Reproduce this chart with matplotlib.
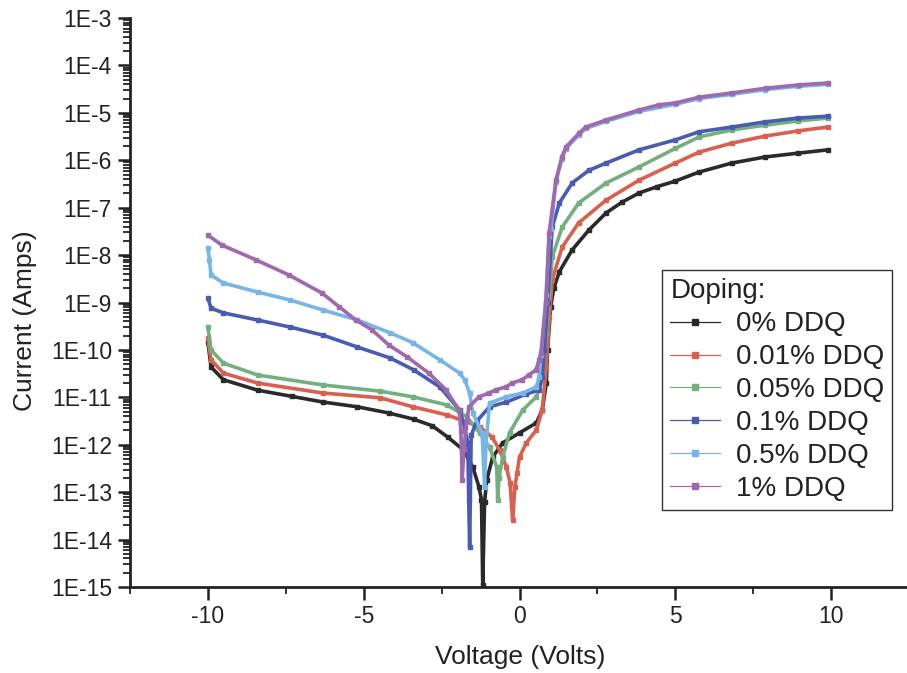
import numpy as np
import matplotlib
matplotlib.use('Agg')
import matplotlib.pyplot as plt
from matplotlib.lines import Line2D
from matplotlib.ticker import MultipleLocator, LogLocator, FixedLocator, NullFormatter

plt.rcParams['font.family'] = ['Liberation Sans', 'DejaVu Sans']
plt.rcParams['axes.unicode_minus'] = False

# Values: voltage (V) and log10 of current (A)
v_0 = [-10.0, -9.9, -9.5, -8.4, -7.3, -6.3, -5.2, -4.2, -3.4, -2.8, -2.3, -1.8, -1.5, -1.3,
       -1.22, -1.18, -1.12, -1.05, -0.86, -0.54, 0.0, 0.54, 0.73, 0.86, 0.9, 1.0, 1.1, 1.28,
       1.69, 2.23, 2.78, 3.3, 3.84, 4.4, 5.0, 5.76, 6.81, 7.89, 8.95, 9.9]
logi_0 = [-9.83, -10.36, -10.63, -10.85, -10.98, -11.10, -11.20, -11.33, -11.46, -11.6, -11.84,
          -12.11, -12.47, -12.89, -13.16, -14.95, -13.2, -12.74, -12.26, -11.96, -11.75, -11.54,
          -11.27, -10.70, -10.0, -9.1, -8.7, -8.35, -7.89, -7.47, -7.11, -6.88, -6.69, -6.56,
          -6.44, -6.25, -6.06, -5.93, -5.85, -5.78]

v_001 = [-10.0, -9.9, -9.5, -8.4, -6.3, -4.47, -3.42, -2.33, -1.28, -0.88, -0.64, -0.42, -0.3,
         -0.25, -0.22, -0.15, -0.08, 0.0, 0.22, 0.54, 0.73, 0.86, 0.96, 1.05, 1.37, 1.9, 2.78,
         3.84, 5.0, 5.76, 6.81, 7.89, 8.95, 9.9]
logi_001 = [-9.75, -10.21, -10.49, -10.70, -10.91, -11.01, -11.20, -11.37, -11.62, -11.84, -12.11,
            -12.47, -12.81, -13.31, -13.59, -12.9, -12.6, -12.26, -11.96, -11.69, -11.27, -10.36,
            -9.31, -8.52, -7.83, -7.32, -6.84, -6.42, -6.06, -5.83, -5.64, -5.49, -5.38, -5.30]

v_005 = [-10.0, -9.9, -9.5, -8.4, -6.3, -4.47, -3.42, -2.33, -1.69, -1.28, -0.96, -0.73, -0.7,
         -0.66, -0.54, -0.32, 0.10, 0.54, 0.73, 0.86, 1.05, 1.37, 1.9, 2.78, 3.84, 5.0, 5.76,
         6.81, 7.89, 8.95, 9.9]
logi_005 = [-9.52, -10.0, -10.28, -10.53, -10.74, -10.87, -10.99, -11.16, -11.41, -11.75, -12.05,
            -12.47, -13.16, -12.7, -12.26, -11.75, -11.27, -10.99, -10.57, -9.64, -8.04, -7.41,
            -6.90, -6.48, -6.14, -5.75, -5.51, -5.36, -5.26, -5.17, -5.11]

v_01 = [-10.0, -9.9, -9.5, -8.4, -7.35, -6.3, -5.2, -4.15, -3.4, -2.56, -1.92, -1.76, -1.66,
        -1.63, -1.6, -1.55, -1.37, -0.96, -0.42, 0.22, 0.64, 0.73, 0.8, 0.9, 1.05, 1.28, 1.69,
        2.23, 2.78, 3.84, 5.0, 5.76, 6.81, 7.89, 8.95, 9.9]
logi_01 = [-8.90, -9.12, -9.22, -9.37, -9.52, -9.69, -9.94, -10.17, -10.42, -10.78, -11.27,
           -11.62, -11.96, -13.16, -14.16, -11.8, -11.5, -11.2, -11.1, -10.93, -10.84, -10.57,
           -10.0, -9.0, -7.41, -6.90, -6.48, -6.21, -6.06, -5.78, -5.57, -5.40, -5.30, -5.19,
           -5.11, -5.07]

v_05 = [-10.0, -9.95, -9.9, -9.5, -8.4, -7.35, -6.3, -5.2, -4.15, -3.42, -2.56, -1.92, -1.76,
        -1.6, -1.5, -1.2, -1.12, -1.08, -0.96, -0.43, 0.1, 0.54, 0.63, 0.69, 0.85, 0.95, 1.01,
        1.17, 1.36, 1.49, 1.91, 2.13, 2.78, 3.84, 5.0, 5.76, 6.81, 7.89, 8.95, 9.9]
logi_05 = [-7.85, -8.10, -8.42, -8.59, -8.78, -8.95, -9.16, -9.37, -9.64, -9.85, -10.21, -10.49,
           -10.63, -10.91, -11.33, -11.75, -12.89, -12.0, -11.12, -10.99, -10.91, -10.78, -10.57,
           -10.1, -8.85, -7.6, -7.45, -6.45, -5.97, -5.76, -5.46, -5.33, -5.18, -4.97, -4.82,
           -4.70, -4.61, -4.51, -4.44, -4.40]

v_1 = [-10.0, -9.55, -8.46, -7.40, -6.34, -5.79, -5.25, -4.73, -4.19, -3.6, -2.91, -2.36, -1.94,
       -1.88, -1.84, -1.78, -1.7, -1.62, -1.30, -0.98, -0.75, -0.43, -0.24, 0.08, 0.30, 0.53,
       0.63, 0.69, 0.85, 0.95, 1.17, 1.36, 1.49, 1.91, 2.13, 2.78, 3.84, 4.48, 5.02, 5.76, 6.82,
       7.91, 8.97, 9.9]
logi_1 = [-7.58, -7.79, -8.10, -8.42, -8.80, -9.09, -9.37, -9.58, -9.90, -10.15, -10.49, -10.84,
          -11.27, -11.7, -12.74, -12.1, -11.5, -11.2, -10.99, -10.91, -10.84, -10.78, -10.70,
          -10.63, -10.53, -10.42, -10.21, -10.06, -9.0, -7.53, -6.42, -5.93, -5.72, -5.43, -5.30,
          -5.15, -4.94, -4.83, -4.79, -4.67, -4.58, -4.48, -4.41, -4.37]

labels = ['0% DDQ', '0.01% DDQ', '0.05% DDQ', '0.1% DDQ', '0.5% DDQ', '1% DDQ']
colors = ['#2a2a2a', '#d9604e', '#72b07e', '#4a5bb2', '#76b6e6', '#a068ae']
voltages = [v_0, v_001, v_005, v_01, v_05, v_1]
log_currents = [logi_0, logi_001, logi_005, logi_01, logi_05, logi_1]

W, H = 907, 673
fig = plt.figure(figsize=(W / 100, H / 100), dpi=100)
fig.patch.set_facecolor('white')
ax = fig.add_axes([130 / W, 1 - 587 / H, 779 / W, 569 / H])

for v, li, c in zip(voltages, log_currents, colors):
    ax.plot(v, np.power(10.0, li), color=c, lw=2.6, marker='s', ms=2.4,
            mec=c, mfc=c, solid_joinstyle='round', solid_capstyle='round')

ax.set_yscale('log')
ax.set_xlim(-12.5, 12.5)
ax.set_ylim(1e-15, 1e-3)

ax.xaxis.set_major_locator(FixedLocator([-10, -5, 0, 5, 10]))
ax.xaxis.set_minor_locator(MultipleLocator(2.5))
ax.yaxis.set_minor_locator(LogLocator(base=10, subs=np.arange(2, 10), numticks=200))
ax.yaxis.set_minor_formatter(NullFormatter())
ax.set_yticks([10.0 ** e for e in range(-15, -2)])
ax.set_yticklabels(['1E%d' % e for e in range(-15, -2)])

for s in ['top', 'right']:
    ax.spines[s].set_visible(False)
for s in ['left', 'bottom']:
    ax.spines[s].set_linewidth(2.0)
    ax.spines[s].set_color('#222222')

ax.tick_params(which='major', direction='out', length=9, width=1.8, colors='#222222',
               labelsize=16.5, pad=4)
ax.tick_params(which='minor', direction='out', length=5, width=1.3, colors='#222222')
ax.tick_params(axis='x', which='major', pad=4)

fig.text(25 / W, 1 - 321 / H, 'Current (Amps)', rotation=90, ha='center', va='center',
         fontsize=19, color='#222222')
fig.text(520 / W, 1 - 657 / H, 'Voltage (Volts)', ha='center', va='center',
         fontsize=19, color='#222222')

handles = [Line2D([], [], color=c, lw=0.9, marker='s', ms=4, mfc=c, mec=c) for c in colors]
leg = ax.legend(handles, labels, title='Doping:', loc='upper left',
                bbox_to_anchor=(662 / W, 1 - 270 / H), bbox_transform=fig.transFigure,
                fontsize=20, title_fontsize=20, alignment='left', numpoints=1,
                handlelength=1.8, handletextpad=0.55, labelspacing=0.25, borderpad=0.3,
                borderaxespad=0, fancybox=False, framealpha=1, edgecolor='#333333')
leg.get_frame().set_linewidth(1.0)
for t in leg.get_texts():
    t.set_color('#222222')
leg.get_title().set_color('#222222')

fig.savefig('out.png', dpi=100, facecolor='white')
